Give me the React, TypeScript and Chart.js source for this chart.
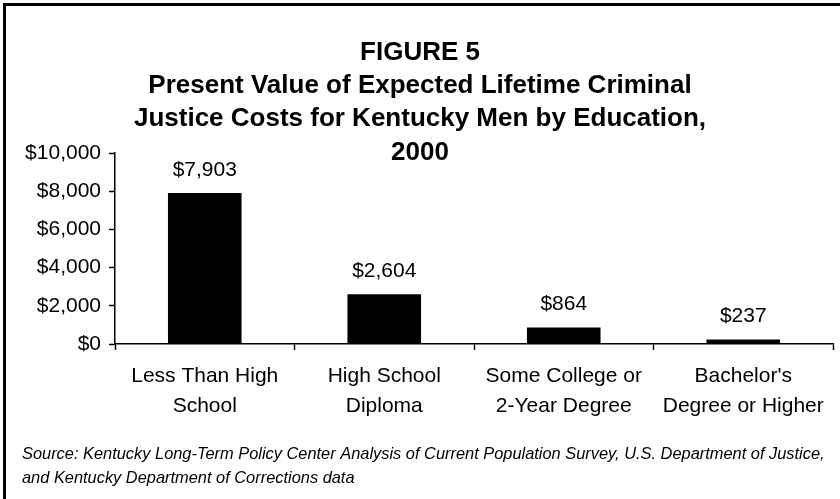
import React, { useEffect, useRef } from "react";
import { Chart, registerables } from "chart.js";

Chart.register(...registerables);

const categories: string[][] = [
  ["Less Than High", "School"],
  ["High School", "Diploma"],
  ["Some College or", "2-Year Degree"],
  ["Bachelor's", "Degree or Higher"],
];
const costs: number[] = [7903, 2604, 864, 237];
const valueLabels: string[] = ["$7,903", "$2,604", "$864", "$237"];
const titleLines: string[] = [
  "FIGURE 5",
  "Present Value of Expected Lifetime Criminal",
  "Justice Costs for Kentucky Men by Education,",
  "2000",
];
const sourceLines: string[] = [
  "Source: Kentucky Long-Term Policy Center Analysis of Current Population Survey, U.S. Department of Justice,",
  "and Kentucky Department of Corrections data",
];
const yTicks: number[] = [0, 2000, 4000, 6000, 8000, 10000];

const FONT = '"Liberation Sans", Arial, Helvetica, sans-serif';

const decorPlugin = {
  id: "decor",
  beforeDraw(chart: any) {
    const ctx = chart.ctx;
    ctx.save();
    ctx.fillStyle = "#ffffff";
    ctx.fillRect(0, 0, chart.width, chart.height);
    ctx.fillStyle = "#000000";
    ctx.fillRect(3, 3, 3, chart.height);
    ctx.fillRect(3, 3, chart.width, 3);
    ctx.restore();
  },
  afterDraw(chart: any) {
    const ctx = chart.ctx;
    ctx.save();
    ctx.fillStyle = "#000000";
    ctx.textAlign = "center";
    ctx.textBaseline = "alphabetic";
    ctx.font = `bold 26px ${FONT}`;
    const titleBase = [60, 93, 126, 160];
    titleLines.forEach((t, i) => ctx.fillText(t, 420, titleBase[i]));

    const meta = chart.getDatasetMeta(0);
    ctx.font = `21px ${FONT}`;
    ctx.textBaseline = "middle";
    meta.data.forEach((bar: any, i: number) => {
      ctx.fillText(valueLabels[i], bar.x, bar.y - 23);
    });

    ctx.textAlign = "left";
    ctx.textBaseline = "alphabetic";
    ctx.font = `italic 16.4px ${FONT}`;
    ctx.fillText(sourceLines[0], 22, 459);
    ctx.fillText(sourceLines[1], 22, 483);
    ctx.restore();
  },
};

export default function App() {
  const ref = useRef<HTMLCanvasElement | null>(null);
  useEffect(() => {
    document.body.style.margin = "0";
    const canvas = ref.current;
    if (!canvas) return;
    const chart = new Chart(canvas, {
      type: "bar",
      data: {
        labels: categories,
        datasets: [
          {
            data: costs,
            backgroundColor: "#000000",
            borderWidth: 0,
            barPercentage: 0.41,
            categoryPercentage: 1,
          },
        ],
      },
      options: {
        responsive: false,
        animation: false,
        devicePixelRatio: 1,
        layout: { padding: { top: 153, right: 7, left: 0, bottom: 0 } },
        plugins: {
          legend: { display: false },
          tooltip: { enabled: false },
          title: { display: false },
        },
        scales: {
          x: {
            type: "category",
            offset: true,
            grid: {
              offset: true,
              drawOnChartArea: false,
              drawTicks: true,
              tickLength: 6,
              tickColor: "#000000",
              tickWidth: 1.5,
            },
            border: { display: true, color: "#000000", width: 1.5 },
            ticks: {
              color: "#000000",
              font: { family: FONT, size: 21, lineHeight: 1.4 },
              padding: 12,
              maxRotation: 0,
              autoSkip: false,
            },
            afterFit: (s: any) => {
              s.height = 499 - 344;
            },
          },
          y: {
            min: 0,
            max: 10000,
            afterBuildTicks: (s: any) => {
              s.ticks = yTicks.map((v) => ({ value: v }));
            },
            grid: {
              drawOnChartArea: false,
              drawTicks: true,
              tickLength: 6,
              tickColor: "#000000",
              tickWidth: 1.5,
            },
            border: { display: true, color: "#000000", width: 1.5 },
            ticks: {
              color: "#000000",
              font: { family: FONT, size: 21 },
              padding: 8,
              callback: (v: any) => "$" + Number(v).toLocaleString("en-US"),
            },
            afterFit: (s: any) => {
              s.width = 115;
            },
          },
        },
      },
      plugins: [decorPlugin],
    });
    return () => chart.destroy();
  }, []);
  return <canvas ref={ref} width={840} height={499} style={{ display: "block" }} />;
}
